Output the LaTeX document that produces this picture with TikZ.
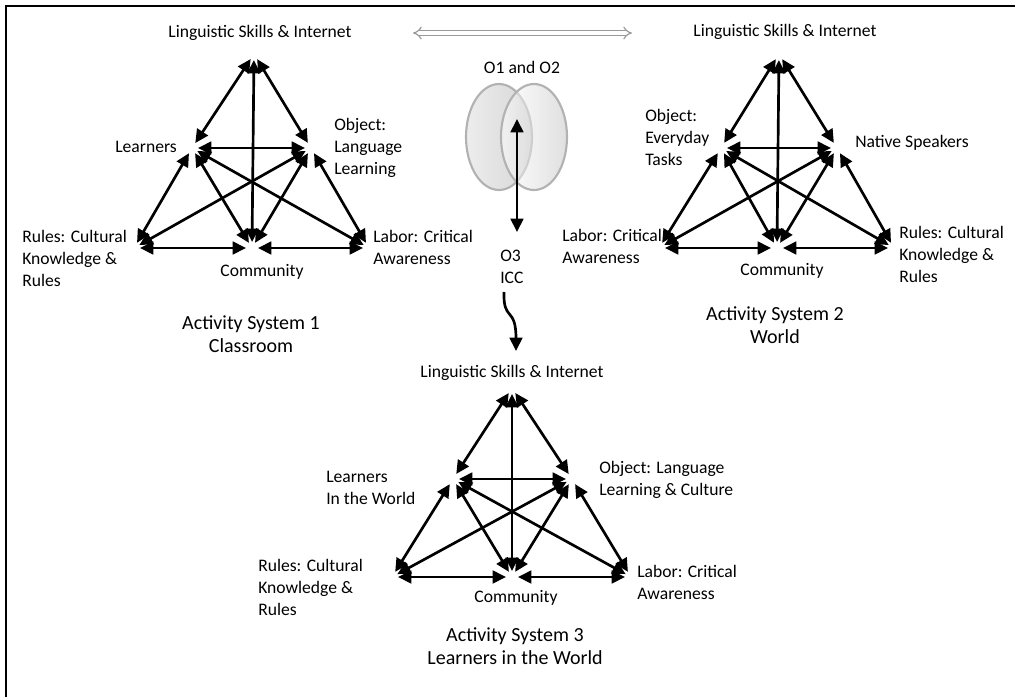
\documentclass[tikz,border=0pt]{standalone}
\usepackage{fontspec}
\setmainfont{Carlito}
\usepackage{tikz}
\usetikzlibrary{arrows.meta, shapes.geometric}
\tikzstyle{aArrow} = [line width=2pt, {Triangle[length=10pt,width=9.5pt]}-{Triangle[length=10pt,width=9.5pt]}, shorten >=4.5pt, shorten <=4.5pt]
\tikzstyle{aOneWay} = [line width=2pt, -{Triangle[length=10pt,width=9.5pt]}]
\tikzstyle{aLabel} = [align=left, inner sep=0pt, font=\fontsize{13.2}{16.5}\selectfont]
\tikzstyle{aTitle} = [align=center, inner sep=0pt, font=\fontsize{15}{17.5}\selectfont]
\tikzstyle{aLens} = [ellipse, draw=gray!60, line width=1.6pt, minimum width=49.5pt, minimum height=79.5pt, inner sep=0pt]
\tikzstyle{aHollow} = [draw=gray!80, line width=0.9pt, double=white, double distance=2.4pt, {Implies}-{Implies}]

\begin{document}
\begin{tikzpicture}[x=0.75pt, y=-0.75pt]
    \useasboundingbox (0,0) rectangle (1015,697);
    \draw [line width=1.8pt] (6,697) -- (6,6) -- (1015,6);

    \coordinate (t1) at (254,54);
    \coordinate (l1) at (192,148);
    \coordinate (r1) at (311,148);
    \coordinate (bl1) at (134,248);
    \coordinate (bm1) at (252,248);
    \coordinate (br1) at (369,248);

    \coordinate (t2) at (779,54);
    \coordinate (l2) at (721,148);
    \coordinate (r2) at (837,148);
    \coordinate (bl2) at (659,248);
    \coordinate (bm2) at (777,248);
    \coordinate (br2) at (894,248);

    \coordinate (t3) at (512,388);
    \coordinate (l3) at (453,479);
    \coordinate (r3) at (572,479);
    \coordinate (bl3) at (392,577);
    \coordinate (bm3) at (512,577);
    \coordinate (br3) at (631,577);

    \foreach \i in {1,2,3}
        \foreach \a/\b in {t/l, t/r, t/bm, l/r, l/bl, l/bm, l/br, r/bl, r/bm, r/br, bl/bm, bm/br}
            \draw [aArrow] (\a\i) -- (\b\i);

    \node (ling1) [aLabel] at (260,33) {Linguistic Skills \& Internet};
    \node (lear1) [aLabel, anchor=east] at (177,147) {Learners};
    \node (obj1) [aLabel, anchor=west] at (334,148) {Object:\\Language\\Learning};
    \node (rule1) [aLabel, anchor=west] at (22,258) {Rules: Cultural\\Knowledge \&\\Rules};
    \node (labo1) [aLabel, anchor=west] at (373,247) {Labor: Critical\\Awareness};
    \node (comm1) [aLabel] at (262,272) {Community};
    \node (act1) [aTitle] at (251,334) {Activity System 1\\Classroom};

    \node (ling2) [aLabel] at (785,32) {Linguistic Skills \& Internet};
    \node (obj2) [aLabel, anchor=west] at (645,137) {Object:\\Everyday\\Tasks};
    \node (nati2) [aLabel, anchor=west] at (855,143) {Native Speakers};
    \node (labo2) [aLabel, anchor=west] at (562,246) {Labor: Critical\\Awareness};
    \node (rule2) [aLabel, anchor=west] at (899,254) {Rules: Cultural\\Knowledge \&\\Rules};
    \node (comm2) [aLabel] at (782,271) {Community};
    \node (act2) [aTitle] at (775,325) {Activity System 2\\World};

    \node (ling3) [aLabel] at (512,373) {Linguistic Skills \& Internet};
    \node (lear3) [aLabel, anchor=west] at (326,488) {Learners\\In the World};
    \node (obj3) [aLabel, anchor=west] at (599,480) {Object: Language\\Learning \& Culture};
    \node (rule3) [aLabel, anchor=west] at (258,587) {Rules: Cultural\\Knowledge \&\\Rules};
    \node (labo3) [aLabel, anchor=west] at (637,582) {Labor: Critical\\Awareness};
    \node (comm3) [aLabel] at (516,598) {Community};
    \node (act3) [aTitle] at (515,646) {Activity System 3\\Learners in the World};

    \coordinate (hl) at (413,33);
    \coordinate (hr) at (632,33);
    \draw [aHollow] (hl) -- (hr);

    \node (o12) [aLabel] at (522,67) {O1 and O2};
    \node (o1) [aLens, left color=gray!14, right color=gray!32] at (499,137) {};
    \node (o2) [aLens, left color=white, right color=gray!45, fill opacity=0.55] at (534,137) {};
    \coordinate (oin) at (517,113);
    \coordinate (oout) at (517,238);
    \draw [aArrow] (oin) -- (oout);

    \node (o3) [aLabel, anchor=west] at (500,267) {O3\\ICC};
    \coordinate (sq1) at (504,292);
    \coordinate (sq2) at (516,351);
    \draw [aOneWay] (sq1) .. controls (503,322) and (516,306) .. (sq2);
\end{tikzpicture}
\end{document}
